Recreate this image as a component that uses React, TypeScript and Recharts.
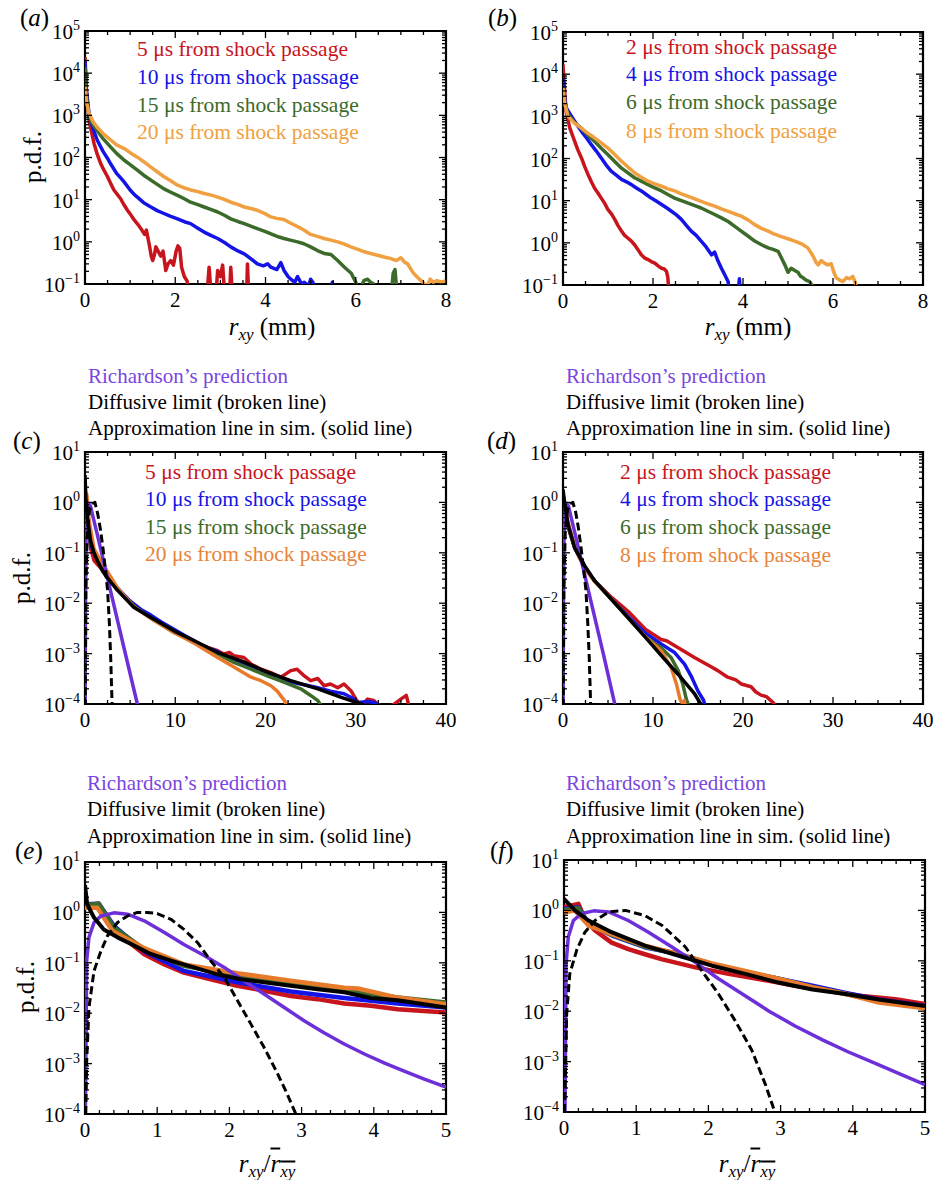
import { LineChart, Line, XAxis, YAxis, ReferenceArea } from "recharts";

type Pt = [number, number];

const SERIF = '"Liberation Serif", "Times New Roman", serif';
const RED = "#c8141c";
const BLUE = "#1414e6";
const GREEN = "#3c6a2a";
const ORANGE_AB = "#f0a040";
const ORANGE = "#e87a2c";
const PURPLE = "#6c2fd8";
const PURPLE_TEXT = "#7a45e0";

// tick labels
const MM_X_TICKS = [0, 2, 4, 6, 8];
const WIDE_X_TICKS = [0, 10, 20, 30, 40];
const NORM_X_TICKS = [0, 1, 2, 3, 4, 5];
const AB_Y_EXP = [-1, 0, 1, 2, 3, 4, 5];
const CF_Y_EXP = [-4, -3, -2, -1, 0, 1];

const A_LABELS = ["5 μs from shock passage", "10 μs from shock passage", "15 μs from shock passage", "20 μs from shock passage"];
const B_LABELS = ["2 μs from shock passage", "4 μs from shock passage", "6 μs from shock passage", "8 μs from shock passage"];
const HEADER = ["Richardson’s prediction", "Diffusive limit (broken line)", "Approximation line in sim. (solid line)"];

// (a) r_xy in mm, 5/10/15/20 us
const A_5: Pt[] = [
  [0, 2.4e4], [0.03, 4e3], [0.09, 760], [0.15, 380], [0.2, 215], [0.27, 120], [0.35, 71], [0.42, 50], [0.5, 35],
  [0.57, 24], [0.64, 17], [0.7, 14], [0.79, 10.5], [0.85, 8], [0.94, 5.6], [1.0, 4.6], [1.09, 3.3], [1.17, 2.6],
  [1.26, 1.9], [1.32, 1.5], [1.36, 1.9], [1.42, 0.9], [1.47, 0.45], [1.5, 0.36], [1.54, 0.5], [1.57, 0.76],
  [1.62, 0.6], [1.68, 0.46], [1.73, 0.6], [1.79, 0.21], [1.84, 0.3], [1.9, 0.36], [1.96, 0.28], [2.02, 0.6],
  [2.06, 0.8], [2.1, 0.7], [2.14, 0.25], [2.2, 0.15], [2.26, 0.12], [2.32, 0.05], [2.7, 0.05], [2.75, 0.25],
  [2.8, 0.05], [2.9, 0.05], [2.94, 0.21], [3.0, 0.15], [3.05, 0.28], [3.1, 0.05], [3.2, 0.05], [3.23, 0.25],
  [3.27, 0.05], [3.58, 0.05], [3.6, 0.3], [3.63, 0.05],
];
const A_10: Pt[] = [
  [0, 2e4], [0.03, 4e3], [0.09, 1100], [0.18, 480], [0.27, 260], [0.4, 140], [0.5, 95], [0.57, 70], [0.7, 42],
  [0.8, 32], [0.87, 26], [1.0, 17], [1.1, 13], [1.16, 11.5], [1.3, 8.5], [1.46, 6.7], [1.6, 5.5], [1.75, 4.7],
  [1.9, 4.0], [2.05, 3.5], [2.2, 3.0], [2.34, 2.7], [2.5, 2.1], [2.64, 1.7], [2.8, 1.4], [2.94, 1.2], [3.1, 0.95],
  [3.23, 0.76], [3.4, 0.6], [3.53, 0.52], [3.7, 0.38], [3.82, 0.3], [3.95, 0.27], [4.05, 0.3], [4.12, 0.25],
  [4.25, 0.22], [4.34, 0.32], [4.41, 0.21], [4.5, 0.15], [4.56, 0.13], [4.65, 0.11], [4.71, 0.15], [4.8, 0.1],
  [4.86, 0.11], [4.95, 0.09], [5.0, 0.13], [5.05, 0.11], [5.1, 0.05], [5.45, 0.05], [5.48, 0.11], [5.52, 0.05],
];
const A_15: Pt[] = [
  [0, 1.4e4], [0.03, 3e3], [0.09, 900], [0.18, 600], [0.27, 440], [0.4, 280], [0.57, 176], [0.7, 125], [0.87, 86],
  [1.0, 68], [1.16, 50], [1.3, 38], [1.46, 29], [1.6, 23], [1.75, 18], [1.9, 15], [2.05, 12.6], [2.2, 10.5],
  [2.34, 8.7], [2.5, 7.6], [2.64, 6.7], [2.8, 5.8], [2.94, 5.1], [3.1, 4.2], [3.23, 3.5], [3.4, 3.0], [3.53, 2.7],
  [3.7, 2.3], [3.82, 2.05], [4.0, 1.75], [4.12, 1.55], [4.3, 1.3], [4.41, 1.2], [4.55, 1.1], [4.71, 1.0],
  [4.85, 0.9], [5.0, 0.76], [5.15, 0.62], [5.3, 0.53], [5.45, 0.5], [5.6, 0.36], [5.75, 0.25], [5.9, 0.18],
  [6.0, 0.11], [6.08, 0.07], [6.18, 0.12], [6.26, 0.13], [6.33, 0.11], [6.4, 0.1], [6.45, 0.05], [6.78, 0.05],
  [6.83, 0.18], [6.87, 0.22], [6.92, 0.05],
];
const A_20: Pt[] = [
  [0, 5e3], [0.03, 2.2e3], [0.09, 1100], [0.18, 700], [0.27, 520], [0.4, 370], [0.57, 260], [0.7, 200], [0.87, 163],
  [1.0, 130], [1.16, 102], [1.3, 80], [1.46, 59], [1.6, 46], [1.75, 35], [1.9, 28], [2.05, 22], [2.2, 19],
  [2.34, 17], [2.5, 15.5], [2.64, 14], [2.8, 12.8], [2.94, 11.5], [3.1, 10], [3.23, 8.7], [3.4, 7.6], [3.53, 6.7],
  [3.7, 6.1], [3.82, 5.6], [4.0, 4.6], [4.12, 3.9], [4.25, 3.6], [4.41, 3.4], [4.55, 2.8], [4.71, 2.3], [4.85, 1.9],
  [5.0, 1.5], [5.15, 1.35], [5.3, 1.2], [5.45, 1.1], [5.6, 1.0], [5.75, 0.88], [5.89, 0.76], [6.05, 0.66],
  [6.19, 0.58], [6.35, 0.52], [6.48, 0.48], [6.65, 0.43], [6.78, 0.4], [6.9, 0.36], [7.0, 0.42], [7.08, 0.33],
  [7.15, 0.3], [7.25, 0.2], [7.3, 0.17], [7.38, 0.14], [7.45, 0.12], [7.52, 0.1], [7.58, 0.09], [7.65, 0.13],
  [7.72, 0.11], [7.8, 0.12], [7.9, 0.11], [8.0, 0.12],
];

// (b) r_xy in mm, 2/4/6/8 us
const B_2: Pt[] = [
  [0, 1.7e4], [0.03, 5e3], [0.07, 1300], [0.15, 530], [0.26, 255], [0.33, 160], [0.41, 103], [0.48, 65], [0.56, 41],
  [0.63, 28], [0.7, 20], [0.78, 15], [0.85, 11.5], [0.93, 8.5], [1.0, 6.1], [1.08, 4.8], [1.15, 3.6], [1.22, 2.6],
  [1.3, 1.9], [1.37, 1.5], [1.44, 1.3], [1.52, 1.1], [1.59, 0.9], [1.67, 0.68], [1.74, 0.52], [1.81, 0.44],
  [1.89, 0.4], [1.96, 0.36], [2.04, 0.33], [2.12, 0.28], [2.19, 0.25], [2.25, 0.24], [2.3, 0.21], [2.33, 0.15],
  [2.36, 0.05],
];
const B_4: Pt[] = [
  [0, 8e3], [0.03, 3e3], [0.07, 1600], [0.19, 1000], [0.3, 650], [0.41, 440], [0.52, 310], [0.63, 213], [0.74, 150],
  [0.85, 103], [0.96, 70], [1.07, 50], [1.19, 40], [1.3, 32], [1.41, 28], [1.52, 24], [1.63, 20], [1.74, 17],
  [1.85, 14], [1.96, 11.5], [2.07, 9.8], [2.19, 8.1], [2.3, 6.8], [2.41, 5.6], [2.52, 4.6], [2.63, 3.6], [2.74, 2.6],
  [2.85, 1.9], [2.96, 1.5], [3.07, 1.1], [3.18, 0.8], [3.3, 0.52], [3.37, 0.6], [3.44, 0.38], [3.52, 0.25],
  [3.6, 0.17], [3.67, 0.12], [3.7, 0.05], [3.88, 0.05], [3.92, 0.14], [3.95, 0.05],
];
const B_6: Pt[] = [
  [0, 5e3], [0.04, 2e3], [0.11, 1100], [0.25, 720], [0.41, 520], [0.55, 360], [0.7, 255], [0.85, 175], [1.0, 123],
  [1.15, 85], [1.3, 59], [1.45, 45], [1.59, 35], [1.74, 29], [1.89, 24], [2.04, 20], [2.19, 17], [2.33, 14],
  [2.48, 11.5], [2.63, 10], [2.78, 8.7], [2.93, 7.6], [3.07, 6.7], [3.22, 5.6], [3.37, 4.7], [3.52, 3.9], [3.67, 3.2],
  [3.81, 2.5], [3.96, 1.9], [4.11, 1.45], [4.26, 1.1], [4.41, 0.9], [4.56, 0.76], [4.67, 0.7], [4.78, 0.63],
  [4.85, 0.45], [4.93, 0.3], [5.0, 0.2], [5.07, 0.25], [5.15, 0.22], [5.22, 0.2], [5.28, 0.16], [5.33, 0.15],
  [5.4, 0.13], [5.48, 0.12], [5.53, 0.1], [5.56, 0.05],
];
const B_8: Pt[] = [
  [0, 4.7e3], [0.04, 2e3], [0.11, 1000], [0.25, 700], [0.41, 520], [0.55, 400], [0.7, 310], [0.85, 235], [1.0, 176],
  [1.15, 125], [1.3, 86], [1.45, 62], [1.59, 46], [1.74, 36], [1.89, 29], [2.04, 25], [2.19, 22], [2.33, 19],
  [2.48, 17], [2.63, 14.5], [2.78, 12.6], [2.93, 11], [3.07, 9.6], [3.22, 8.4], [3.37, 7.4], [3.52, 6.4], [3.67, 5.6],
  [3.81, 4.9], [3.96, 4.3], [4.11, 3.5], [4.26, 2.7], [4.41, 2.2], [4.56, 1.9], [4.7, 1.6], [4.85, 1.4], [5.0, 1.25],
  [5.15, 1.1], [5.3, 0.95], [5.44, 0.76], [5.55, 0.5], [5.62, 0.35], [5.67, 0.3], [5.74, 0.38], [5.81, 0.33],
  [5.88, 0.3], [5.96, 0.32], [6.02, 0.2], [6.07, 0.15], [6.15, 0.13], [6.22, 0.12], [6.3, 0.15], [6.37, 0.14],
  [6.44, 0.16], [6.5, 0.11], [6.56, 0.05],
];

// (c) scaled separation, 5/10/15/20 us plus model curves
const C_5: Pt[] = [
  [0, 1.2], [0.3, 0.45], [0.63, 0.12], [1.0, 0.07], [1.74, 0.05], [2.48, 0.032], [3.6, 0.019], [5.1, 0.0105],
  [6.5, 6.5e-3], [8.0, 4.3e-3], [9.9, 2.8e-3], [11.5, 2e-3], [12.5, 1.6e-3], [13.6, 1.33e-3], [14.7, 1.14e-3],
  [15.4, 9.8e-4], [16.0, 1.05e-3], [16.5, 9.1e-4], [17.6, 8.4e-4], [18.4, 6.2e-4], [19.5, 4.9e-4], [20.6, 4.2e-4],
  [21.7, 3.4e-4], [22.8, 4.6e-4], [23.5, 4.9e-4], [24.3, 3.6e-4], [25.0, 2.9e-4], [25.8, 3.2e-4], [26.5, 2.3e-4],
  [27.2, 2.5e-4], [28.0, 2.1e-4], [28.7, 2.5e-4], [29.5, 1.8e-4], [30.0, 1.25e-4], [30.6, 9e-5], [31.3, 1.25e-4],
  [32.0, 1.17e-4], [32.4, 1e-4], [33.2, 8e-5], [34.3, 1e-4], [35.0, 1.25e-4], [35.6, 1.48e-4], [35.9, 9e-5],
  [36.1, 5e-5],
];
const C_10: Pt[] = [
  [0, 1.0], [0.3, 0.4], [0.63, 0.14], [1.37, 0.075], [2.0, 0.048], [3.6, 0.02], [5.0, 0.011], [6.2, 7.5e-3],
  [7.3, 5.8e-3], [8.5, 4.2e-3], [9.9, 3e-3], [11.0, 2.3e-3], [12.1, 1.8e-3], [13.5, 1.3e-3], [14.7, 1.1e-3],
  [15.5, 8.5e-4], [16.5, 7.2e-4], [17.5, 6e-4], [18.4, 5.4e-4], [20.2, 3.9e-4], [22.1, 2.9e-4], [23.9, 2.5e-4],
  [25.8, 2.1e-4], [27.2, 1.8e-4], [28.7, 1.6e-4], [29.5, 1.35e-4], [30.2, 1.07e-4], [31.3, 1.12e-4],
  [32.1, 1.07e-4], [32.5, 9e-5], [33, 5e-5],
];
const C_15: Pt[] = [
  [0, 1.1], [0.3, 0.45], [0.63, 0.15], [1.74, 0.062], [3.6, 0.019], [5.4, 8.8e-3], [7.3, 5e-3], [9.9, 2.6e-3],
  [12.1, 1.7e-3], [14.7, 9.8e-4], [16.5, 6.7e-4], [18.4, 4.9e-4], [20.2, 3.6e-4], [22.1, 2.7e-4], [23.9, 2e-4],
  [25.0, 1.48e-4], [25.8, 1.17e-4], [26.2, 9e-5], [26.5, 5e-5],
];
const C_20: Pt[] = [
  [0, 1.6], [0.2, 1.45], [0.44, 0.45], [1.0, 0.12], [1.74, 0.07], [3.6, 0.02], [5.4, 8.5e-3], [7.3, 5e-3],
  [9.9, 2.6e-3], [12.1, 1.6e-3], [14.7, 8.4e-4], [16.5, 5.4e-4], [18.4, 3.4e-4], [19.5, 2.9e-4], [20.6, 2.3e-4],
  [21.3, 1.8e-4], [22.1, 1.17e-4], [22.5, 8e-5], [22.7, 5e-5],
];
const C_RICH: Pt[] = [
  [0.01, 5e-5], [0.05, 0.01], [0.1, 0.15], [0.2, 0.6], [0.4, 0.95], [0.6, 0.85], [1.5, 0.18], [3.0, 0.013],
  [4.5, 9.5e-4], [5.8, 1e-4], [6.2, 5e-5],
];
const C_DIFF: Pt[] = [
  [0.02, 5e-5], [0.1, 0.02], [0.25, 0.25], [0.5, 0.7], [0.8, 0.95], [1.1, 1.0], [1.4, 0.6], [1.7, 0.3],
  [2.0, 0.12], [2.3, 0.04], [2.5, 0.018], [2.7, 4e-3], [2.85, 8e-4], [3.0, 1e-4], [3.1, 2e-5],
];
const C_APPROX: Pt[] = [
  [0, 3.5], [0.1, 1.2], [0.26, 0.5], [0.63, 0.17], [1.0, 0.1], [1.37, 0.07], [2.0, 0.042], [2.48, 0.032],
  [3.6, 0.018], [5.4, 8.3e-3], [7.3, 5.2e-3], [9.9, 2.8e-3], [12.1, 1.8e-3], [14.7, 1.05e-3], [17.3, 7.2e-4],
  [20.2, 4.3e-4], [22.8, 2.9e-4], [25.8, 2e-4], [28.4, 1.35e-4], [30.6, 1e-4], [32, 8e-5],
];

// (d) scaled separation, 2/4/6/8 us plus model curves
const D_2: Pt[] = [
  [0, 1.5], [0.2, 0.9], [0.56, 0.32], [1.3, 0.125], [2.4, 0.05], [3.5, 0.028], [5.4, 0.013], [7.2, 7e-3],
  [9.1, 3.1e-3], [10.9, 1.9e-3], [11.5, 1.8e-3], [12.8, 1.3e-3], [13.5, 1.1e-3], [14.6, 8.4e-4], [16.5, 5.4e-4],
  [17.2, 4.6e-4], [18.3, 3.4e-4], [19.2, 3.0e-4], [19.8, 2.5e-4], [20.9, 2.2e-4], [21.4, 1.75e-4], [22.0, 1.5e-4],
  [22.6, 1.4e-4], [23.1, 1.17e-4], [23.5, 1e-4], [23.8, 5e-5],
];
const D_4: Pt[] = [
  [0, 1.2], [0.2, 0.8], [0.56, 0.35], [1.3, 0.125], [2.4, 0.055], [3.5, 0.028], [5.4, 0.012], [7.2, 5.6e-3],
  [9.1, 2.6e-3], [10.9, 1.55e-3], [12.4, 1.05e-3], [13.5, 6.2e-4], [14.3, 3.4e-4], [15.0, 1.8e-4], [15.6, 1.2e-4],
  [15.9, 8e-5], [16.1, 5e-5],
];
const D_6: Pt[] = [
  [0, 1.3], [0.2, 0.8], [0.56, 0.35], [1.3, 0.13], [2.4, 0.055], [3.5, 0.028], [5.4, 0.012], [7.2, 5.2e-3],
  [9.1, 2.2e-3], [10.9, 1.3e-3], [12.0, 8.4e-4], [12.8, 4.6e-4], [13.3, 2.5e-4], [13.7, 1.25e-4], [13.9, 1e-4],
  [14.0, 5e-5],
];
const D_8: Pt[] = [
  [0, 1.4], [0.2, 1.0], [0.56, 0.4], [1.3, 0.13], [2.4, 0.05], [3.5, 0.027], [5.4, 0.012], [7.2, 5.2e-3],
  [9.1, 2.2e-3], [10.9, 1.14e-3], [12.0, 5.4e-4], [12.6, 2.5e-4], [13.0, 1.25e-4], [13.3, 1.0e-4], [13.5, 1.17e-4],
  [13.7, 5e-5],
];
const D_RICH: Pt[] = [
  [0.01, 5e-5], [0.05, 0.01], [0.1, 0.15], [0.2, 0.6], [0.4, 0.95], [0.6, 0.85], [1.5, 0.18], [3.0, 0.013],
  [4.5, 9.5e-4], [5.75, 1e-4], [6.2, 5e-5],
];
const D_DIFF: Pt[] = [
  [0.02, 5e-5], [0.1, 0.02], [0.25, 0.25], [0.5, 0.7], [0.8, 0.95], [1.1, 1.0], [1.4, 0.65], [1.7, 0.32],
  [2.0, 0.13], [2.3, 0.045], [2.55, 0.018], [2.75, 4e-3], [2.92, 8e-4], [3.07, 1e-4], [3.15, 2e-5],
];
const D_APPROX: Pt[] = [
  [0, 1.8], [0.2, 0.9], [0.56, 0.37], [1.3, 0.125], [2.4, 0.055], [3.5, 0.028], [5.37, 0.012], [7.22, 5.2e-3],
  [9.07, 2.2e-3], [10.93, 9.1e-4], [12.78, 3.9e-4], [14.63, 1.58e-4], [15.3, 1e-4], [15.8, 6e-5],
];

// (e) normalised separation, 5/10/15/20 us
const E_5: Pt[] = [
  [0, 1.34], [0.19, 1.49], [0.4, 0.5], [0.59, 0.27], [0.82, 0.148], [1.1, 0.093], [1.37, 0.064], [1.74, 0.047],
  [2.11, 0.035], [2.48, 0.028], [2.85, 0.022], [3.22, 0.019], [3.59, 0.0156], [3.96, 0.014], [4.33, 0.012],
  [5.0, 0.0103],
];
const E_10: Pt[] = [
  [0, 1.45], [0.19, 1.49], [0.4, 0.54], [0.82, 0.17], [1.37, 0.069], [2.11, 0.041], [2.85, 0.027], [3.59, 0.02],
  [4.33, 0.0156], [5.0, 0.0129],
];
const E_15: Pt[] = [
  [0, 1.4], [0.19, 1.49], [0.4, 0.5], [0.82, 0.187], [1.37, 0.087], [2.11, 0.055], [2.85, 0.038], [3.59, 0.028],
  [4.33, 0.0204], [5.0, 0.0163],
];
const E_20: Pt[] = [
  [0, 1.24], [0.17, 1.24], [0.38, 0.43], [0.82, 0.195], [1.37, 0.093], [2.11, 0.062], [2.85, 0.044], [3.59, 0.032],
  [3.78, 0.031], [4.33, 0.0204], [5.0, 0.015],
];
const E_RICH: Pt[] = [
  [0.005, 1e-4], [0.023, 0.11], [0.055, 0.32], [0.125, 0.63], [0.22, 0.85], [0.4, 0.98], [0.59, 0.92], [0.82, 0.68],
  [1.1, 0.4], [1.37, 0.23], [1.65, 0.14], [1.93, 0.081], [2.2, 0.044], [2.48, 0.024], [2.76, 0.013], [3.04, 7e-3],
  [3.31, 4.1e-3], [3.59, 2.45e-3], [3.87, 1.55e-3], [4.15, 1.02e-3], [4.42, 7.1e-4], [4.7, 4.9e-4], [5.0, 3.4e-4],
];
const E_DIFF: Pt[] = [
  [0.01, 1e-4], [0.023, 1.1e-3], [0.055, 0.013], [0.125, 0.069], [0.22, 0.17], [0.31, 0.34], [0.45, 0.63],
  [0.59, 0.85], [0.725, 1.0], [0.86, 1.0], [1.0, 0.95], [1.19, 0.73], [1.37, 0.46], [1.56, 0.25], [1.74, 0.11],
  [1.93, 0.051], [2.11, 0.018], [2.3, 6e-3], [2.48, 2.1e-3], [2.67, 6.2e-4], [2.8, 2.5e-4], [2.92, 1e-4],
  [3.0, 4e-5],
];
const E_APPROX: Pt[] = [
  [0, 3.5], [0.03, 1.45], [0.125, 0.79], [0.26, 0.46], [0.45, 0.32], [0.68, 0.22], [0.91, 0.15], [1.19, 0.11],
  [1.51, 0.081], [1.83, 0.059], [2.16, 0.047], [2.48, 0.041], [2.85, 0.035], [3.22, 0.03], [3.59, 0.026],
  [3.96, 0.02], [4.33, 0.018], [4.7, 0.015], [5.0, 0.013],
];

// (f) normalised separation, 2/4/6/8 us
const F_2: Pt[] = [
  [0, 1.16], [0.2, 1.35], [0.29, 0.68], [0.43, 0.4], [0.66, 0.23], [0.89, 0.17], [1.12, 0.135], [1.36, 0.107],
  [1.82, 0.074], [2.28, 0.055], [2.84, 0.04], [3.2, 0.032], [3.67, 0.025], [4.13, 0.02], [4.59, 0.0173],
  [5.0, 0.0138],
];
const F_4: Pt[] = [
  [0, 1.07], [0.2, 1.16], [0.34, 0.54], [0.66, 0.32], [1.12, 0.186], [1.59, 0.136], [2.05, 0.086], [2.51, 0.059],
  [2.97, 0.044], [3.44, 0.032], [3.9, 0.023], [4.36, 0.017], [5.0, 0.0126],
];
const F_6: Pt[] = [
  [0, 1.02], [0.2, 1.12], [0.34, 0.54], [0.66, 0.33], [1.12, 0.19], [1.59, 0.136], [2.05, 0.086], [2.51, 0.06],
  [2.97, 0.044], [3.44, 0.03], [3.9, 0.022], [4.36, 0.016], [5.0, 0.012],
];
const F_8: Pt[] = [
  [0, 0.91], [0.15, 1.0], [0.34, 0.5], [0.66, 0.34], [1.12, 0.2], [1.59, 0.136], [2.05, 0.089], [2.51, 0.063],
  [2.97, 0.044], [3.44, 0.03], [3.9, 0.022], [4.36, 0.0148], [5.0, 0.0115],
];
const F_RICH: Pt[] = [
  [0.014, 1e-4], [0.028, 0.085], [0.06, 0.3], [0.13, 0.63], [0.245, 0.87], [0.41, 0.98], [0.62, 0.93], [0.89, 0.63],
  [1.17, 0.37], [1.49, 0.19], [1.82, 0.093], [2.14, 0.044], [2.47, 0.022], [2.84, 0.01], [3.2, 5.1e-3],
  [3.58, 2.7e-3], [3.94, 1.55e-3], [4.32, 9.1e-4], [4.69, 5.4e-4], [5.0, 3.5e-4],
];
const F_DIFF: Pt[] = [
  [0.005, 1e-4], [0.014, 2.6e-4], [0.037, 8.7e-3], [0.08, 0.055], [0.18, 0.17], [0.29, 0.37], [0.43, 0.63],
  [0.62, 0.93], [0.85, 1.0], [1.12, 0.79], [1.36, 0.5], [1.54, 0.29], [1.68, 0.19], [1.91, 0.063], [2.14, 0.022],
  [2.37, 6.5e-3], [2.6, 1.7e-3], [2.79, 3.5e-4], [2.92, 1e-4], [3.0, 4e-5],
];
const F_APPROX: Pt[] = [
  [0, 1.7], [0.15, 1.0], [0.34, 0.63], [0.66, 0.37], [1.12, 0.2], [1.59, 0.126], [2.05, 0.08], [2.51, 0.055],
  [2.97, 0.037], [3.44, 0.027], [3.9, 0.022], [4.36, 0.017], [5.0, 0.0126],
];

interface Series {
  data: Pt[];
  color: string;
  width?: number;
  dashed?: boolean;
}

interface PanelCfg {
  left: number;
  top: number;
  pw: number;
  ph: number;
  xMajor: number[];
  xStep: number;
  yExp: number[];
  series: Series[];
}

function withMinors(major: number[], step: number) {
  const out: number[] = [];
  for (let i = 0; i < major.length - 1; i++) {
    const n = Math.round((major[i + 1] - major[i]) / step);
    for (let k = 0; k < n; k++) out.push(+(major[i] + k * step).toFixed(6));
  }
  out.push(major[major.length - 1]);
  return out;
}

function logTicks(exps: number[]) {
  const out: number[] = [];
  for (let i = 0; i < exps.length - 1; i++) {
    for (let m = 1; m < 10; m++) out.push(m * Math.pow(10, exps[i]));
  }
  out.push(Math.pow(10, exps[exps.length - 1]));
  return out;
}

function YTick(props: any) {
  const { x, y, payload, pw } = props;
  const e = Math.log10(payload.value);
  const major = Math.abs(e - Math.round(e)) < 1e-6;
  const exp = Math.round(e);
  const len = major ? 7 : 4;
  return (
    <g>
      <line x1={x} x2={x + len} y1={y} y2={y} stroke="#000" strokeWidth={1.3} />
      <line x1={x + pw} x2={x + pw - len} y1={y} y2={y} stroke="#000" strokeWidth={1.3} />
      {major && (
        <text x={x - 5} y={y + 8} textAnchor="end" fontFamily={SERIF} fontSize={21} fill="#000">
          10
          <tspan dy={-9} fontSize={14}>
            {exp < 0 ? "\u2212" + -exp : String(exp)}
          </tspan>
        </text>
      )}
    </g>
  );
}

function XTick(props: any) {
  const { x, y, payload, ph, majors } = props;
  const v = payload.value;
  const major = majors.some((m: number) => Math.abs(m - v) < 1e-6);
  const len = major ? 7 : 4;
  return (
    <g>
      <line x1={x} x2={x} y1={y} y2={y - len} stroke="#000" strokeWidth={1.3} />
      <line x1={x} x2={x} y1={y - ph} y2={y - ph + len} stroke="#000" strokeWidth={1.3} />
      {major && (
        <text x={x} y={y + 23} textAnchor="middle" fontFamily={SERIF} fontSize={21} fill="#000">
          {v}
        </text>
      )}
    </g>
  );
}

const Y_AXIS_W = 60;
const X_AXIS_H = 34;
const TOP_PAD = 24;

function Panel({ cfg }: { cfg: PanelCfg }) {
  const { left, top, pw, ph, xMajor, xStep, yExp, series } = cfg;
  const xMin = xMajor[0];
  const xMax = xMajor[xMajor.length - 1];
  const yMin = Math.pow(10, yExp[0]);
  const yMax = Math.pow(10, yExp[yExp.length - 1]);
  return (
    <div style={{ position: "absolute", left: left - Y_AXIS_W, top: top - TOP_PAD }}>
      <LineChart
        width={Y_AXIS_W + pw + 10}
        height={TOP_PAD + ph + X_AXIS_H}
        margin={{ top: TOP_PAD, right: 10, bottom: 0, left: 0 }}
      >
        <XAxis
          type="number"
          dataKey="x"
          domain={[xMin, xMax]}
          ticks={withMinors(xMajor, xStep)}
          interval={0}
          allowDataOverflow
          axisLine={false}
          tickLine={false}
          tickSize={0}
          tickMargin={0}
          height={X_AXIS_H}
          tick={(p: any) => <XTick {...p} ph={ph} majors={xMajor} />}
        />
        <YAxis
          type="number"
          scale="log"
          domain={[yMin, yMax]}
          ticks={logTicks(yExp)}
          interval={0}
          allowDataOverflow
          axisLine={false}
          tickLine={false}
          tickSize={0}
          tickMargin={0}
          width={Y_AXIS_W}
          tick={(p: any) => <YTick {...p} pw={pw} />}
        />
        <ReferenceArea
          x1={xMin}
          x2={xMax}
          y1={yMin}
          y2={yMax}
          fill="none"
          fillOpacity={0}
          stroke="#000"
          strokeWidth={2.2}
          ifOverflow="visible"
        />
        {series.map((s, i) => (
          <Line
            key={i}
            data={s.data.map(([x, y]) => ({ x, y }))}
            dataKey="y"
            type="linear"
            dot={false}
            activeDot={false}
            stroke={s.color}
            strokeWidth={s.width ?? 3.5}
            strokeDasharray={s.dashed ? "8 4" : undefined}
            strokeLinejoin="round"
            isAnimationActive={false}
          />
        ))}
      </LineChart>
    </div>
  );
}

const PANELS: PanelCfg[] = [
  {
    left: 85, top: 31, pw: 361, ph: 253, xMajor: MM_X_TICKS, xStep: 0.5, yExp: AB_Y_EXP,
    series: [
      { data: A_5, color: RED }, { data: A_10, color: BLUE }, { data: A_15, color: GREEN }, { data: A_20, color: ORANGE_AB },
    ],
  },
  {
    left: 563, top: 32, pw: 360, ph: 253, xMajor: MM_X_TICKS, xStep: 0.5, yExp: AB_Y_EXP,
    series: [
      { data: B_2, color: RED }, { data: B_4, color: BLUE }, { data: B_6, color: GREEN }, { data: B_8, color: ORANGE_AB },
    ],
  },
  {
    left: 85, top: 452, pw: 361, ph: 252, xMajor: WIDE_X_TICKS, xStep: 2.5, yExp: CF_Y_EXP,
    series: [
      { data: C_5, color: RED }, { data: C_10, color: BLUE }, { data: C_15, color: GREEN }, { data: C_20, color: ORANGE },
      { data: C_RICH, color: PURPLE }, { data: C_DIFF, color: "#000", dashed: true, width: 3 },
      { data: C_APPROX, color: "#000", width: 3.5 },
    ],
  },
  {
    left: 563, top: 452, pw: 360, ph: 252, xMajor: WIDE_X_TICKS, xStep: 2.5, yExp: CF_Y_EXP,
    series: [
      { data: D_2, color: RED }, { data: D_4, color: BLUE }, { data: D_6, color: GREEN }, { data: D_8, color: ORANGE },
      { data: D_RICH, color: PURPLE }, { data: D_DIFF, color: "#000", dashed: true, width: 3 },
      { data: D_APPROX, color: "#000", width: 3.5 },
    ],
  },
  {
    left: 85, top: 862, pw: 361, ph: 252, xMajor: NORM_X_TICKS, xStep: 0.2, yExp: CF_Y_EXP,
    series: [
      { data: E_5, color: RED, width: 4.5 }, { data: E_10, color: BLUE, width: 4.5 }, { data: E_15, color: GREEN, width: 4.5 },
      { data: E_20, color: ORANGE, width: 4.5 }, { data: E_RICH, color: PURPLE, width: 3.5 },
      { data: E_DIFF, color: "#000", dashed: true, width: 3 }, { data: E_APPROX, color: "#000", width: 4 },
    ],
  },
  {
    left: 564, top: 860, pw: 361, ph: 252, xMajor: NORM_X_TICKS, xStep: 0.2, yExp: CF_Y_EXP,
    series: [
      { data: F_2, color: RED, width: 4.5 }, { data: F_4, color: BLUE, width: 4.5 }, { data: F_6, color: GREEN, width: 4.5 },
      { data: F_8, color: ORANGE, width: 4.5 }, { data: F_RICH, color: PURPLE, width: 3.5 },
      { data: F_DIFF, color: "#000", dashed: true, width: 3 }, { data: F_APPROX, color: "#000", width: 4 },
    ],
  },
];

const textBase: React.CSSProperties = {
  position: "absolute",
  fontFamily: SERIF,
  lineHeight: 1,
  whiteSpace: "nowrap",
  color: "#000",
};

function Label({ x, cy, size, color, children }: { x: number; cy: number; size: number; color?: string; children: any }) {
  return <div style={{ ...textBase, left: x, top: cy - size / 2, fontSize: size, color: color ?? "#000" }}>{children}</div>;
}

function Centered({ cx, cy, size, rotate, children }: { cx: number; cy: number; size: number; rotate?: boolean; children: any }) {
  return (
    <div
      style={{
        ...textBase,
        left: cx,
        top: cy,
        fontSize: size,
        transform: `translate(-50%, -50%)${rotate ? " rotate(-90deg)" : ""}`,
      }}
    >
      {children}
    </div>
  );
}

function PanelTag({ x, cy, letter }: { x: number; cy: number; letter: string }) {
  return (
    <Label x={x} cy={cy} size={25}>
      (<i>{letter}</i>)
    </Label>
  );
}

function Legend4({ x, cys, labels, colors }: { x: number; cys: number[]; labels: string[]; colors: string[] }) {
  return (
    <>
      {labels.map((t, i) => (
        <Label key={t} x={x} cy={cys[i]} size={21.5} color={colors[i]}>
          {t}
        </Label>
      ))}
    </>
  );
}

function Header({ x, cys }: { x: number; cys: number[] }) {
  return (
    <>
      {HEADER.map((t, i) => (
        <Label key={t} x={x} cy={cys[i]} size={21} color={i === 0 ? PURPLE_TEXT : "#000"}>
          {t}
        </Label>
      ))}
    </>
  );
}

const subStyle: React.CSSProperties = { fontSize: 17, verticalAlign: "-0.35em", lineHeight: 0 };

const RmmTitle = () => (
  <>
    <i>r</i>
    <sub style={subStyle}>
      <i>xy</i>
    </sub>{" "}
    (mm)
  </>
);

const RnormTitle = () => (
  <>
    <i>r</i>
    <sub style={subStyle}>
      <i>xy</i>
    </sub>
    /
    <span style={{ textDecoration: "overline", textDecorationThickness: "1.5px" }}>
      <i>r</i>
      <sub style={subStyle}>
        <i>xy</i>
      </sub>
    </span>
  </>
);

export default function App() {
  const abColors = [RED, BLUE, GREEN, ORANGE_AB];
  const cdColors = [RED, BLUE, GREEN, "#e8843a"];
  return (
    <div style={{ position: "absolute", left: 0, top: 0, width: 937, height: 1180, background: "#fff" }}>
      {PANELS.map((p, i) => (
        <Panel key={i} cfg={p} />
      ))}

      <PanelTag x={20} cy={17} letter="a" />
      <PanelTag x={488} cy={17} letter="b" />
      <PanelTag x={13} cy={440} letter="c" />
      <PanelTag x={487} cy={440} letter="d" />
      <PanelTag x={15} cy={850} letter="e" />
      <PanelTag x={490} cy={850} letter="f" />

      <Legend4 x={137} cys={[50, 78, 106, 133]} labels={A_LABELS} colors={abColors} />
      <Legend4 x={626} cys={[48, 75, 103, 132]} labels={B_LABELS} colors={abColors} />
      <Legend4 x={145} cys={[473, 500, 528, 555]} labels={A_LABELS} colors={cdColors} />
      <Legend4 x={620} cys={[473, 500, 528, 556]} labels={B_LABELS} colors={cdColors} />

      <Header x={88} cys={[376, 402, 428]} />
      <Header x={566} cys={[376, 402, 428]} />
      <Header x={87} cys={[783, 809, 836]} />
      <Header x={566} cys={[783, 809, 836]} />

      <Centered cx={32} cy={157} size={25} rotate>p.d.f.</Centered>
      <Centered cx={21} cy={578} size={25} rotate>p.d.f.</Centered>
      <Centered cx={25} cy={987} size={25} rotate>p.d.f.</Centered>

      <Centered cx={272} cy={326} size={25}><RmmTitle /></Centered>
      <Centered cx={748} cy={326} size={25}><RmmTitle /></Centered>
      <Centered cx={267} cy={1163} size={25}><RnormTitle /></Centered>
      <Centered cx={747} cy={1163} size={25}><RnormTitle /></Centered>
    </div>
  );
}
